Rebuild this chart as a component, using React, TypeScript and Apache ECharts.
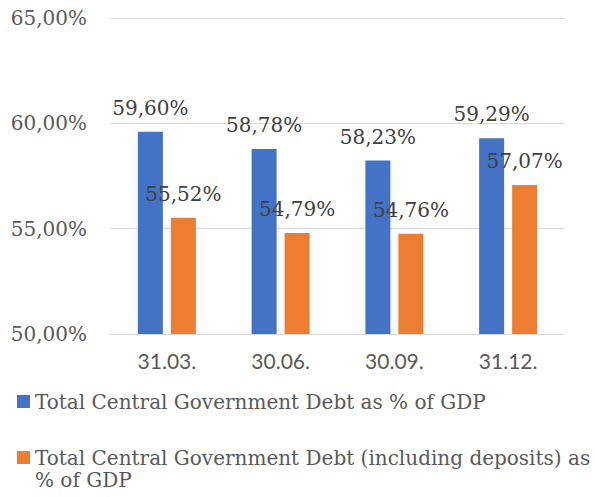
import React, { useEffect, useRef } from "react";
import * as echarts from "echarts";

const categories = ["31.03.", "30.06.", "30.09.", "31.12."];
const seriesNames = [
  "Total Central Government Debt as % of GDP",
  "Total Central Government Debt (including deposits) as % of GDP",
];
const debtValues = [59.6, 58.78, 58.23, 59.29];
const debtInclDepositsValues = [55.52, 54.79, 54.76, 57.07];
const yMin = 50;
const yMax = 65;
const yInterval = 5;

const fmt = (v: number) => v.toFixed(2).replace(".", ",") + "%";

export default function App() {
  const ref = useRef<HTMLDivElement>(null);
  useEffect(() => {
    document.body.style.margin = "0";
    if (!ref.current) return;
    const chart = echarts.init(ref.current, undefined, { renderer: "svg" });
    const serif = "DejaVu Serif";
    const labelCfg = {
      show: true,
      position: "top" as const,
      distance: 14,
      color: "#404040",
      fontFamily: serif,
      fontSize: 20,
      lineHeight: 20,
      formatter: (p: any) => fmt(p.value),
    };
    const legendText = {
      color: "#595959",
      fontFamily: serif,
      fontSize: 20,
      lineHeight: 22,
    };
    chart.setOption({
      animation: false,
      grid: { left: 110, right: 30, top: 18, bottom: 163, containLabel: false },
      xAxis: {
        type: "category",
        data: categories,
        axisLine: { show: true, lineStyle: { color: "#d9d9d9", width: 1 } },
        axisTick: { show: false },
        axisLabel: {
          color: "#595959",
          fontFamily: "Lato",
          fontSize: 21,
          margin: 16,
        },
      },
      yAxis: {
        type: "value",
        min: yMin,
        max: yMax,
        interval: yInterval,
        axisLine: { show: false },
        axisTick: { show: false },
        splitLine: { lineStyle: { color: "#d9d9d9", width: 1 } },
        axisLabel: {
          color: "#595959",
          fontFamily: serif,
          fontSize: 20,
          margin: 23,
          formatter: (v: number) => fmt(v),
        },
      },
      legend: [
        {
          data: [{ name: seriesNames[0], icon: "rect" }],
          left: 17,
          top: 390.5,
          padding: 0,
          itemWidth: 13,
          itemHeight: 13,
          textStyle: legendText,
        },
        {
          data: [
            {
              name: seriesNames[1],
              icon: "path://M0,0 L13,0 L13,13 L0,13 Z M0,35 L13,35",
            },
          ],
          left: 17,
          top: 446.5,
          padding: 0,
          itemWidth: 13,
          itemHeight: 35,
          formatter: (name: string) => name.replace(" as % ", " as\n% "),
          textStyle: legendText,
        },
      ],
      series: [
        {
          name: seriesNames[0],
          type: "bar",
          data: debtValues,
          barWidth: 25,
          barGap: "32%",
          itemStyle: { color: "#4472C4" },
          label: labelCfg,
        },
        {
          name: seriesNames[1],
          type: "bar",
          data: debtInclDepositsValues,
          barWidth: 25,
          itemStyle: { color: "#ED7D31" },
          label: labelCfg,
        },
      ],
    });
    return () => chart.dispose();
  }, []);
  return <div ref={ref} style={{ width: 595, height: 497 }} />;
}
